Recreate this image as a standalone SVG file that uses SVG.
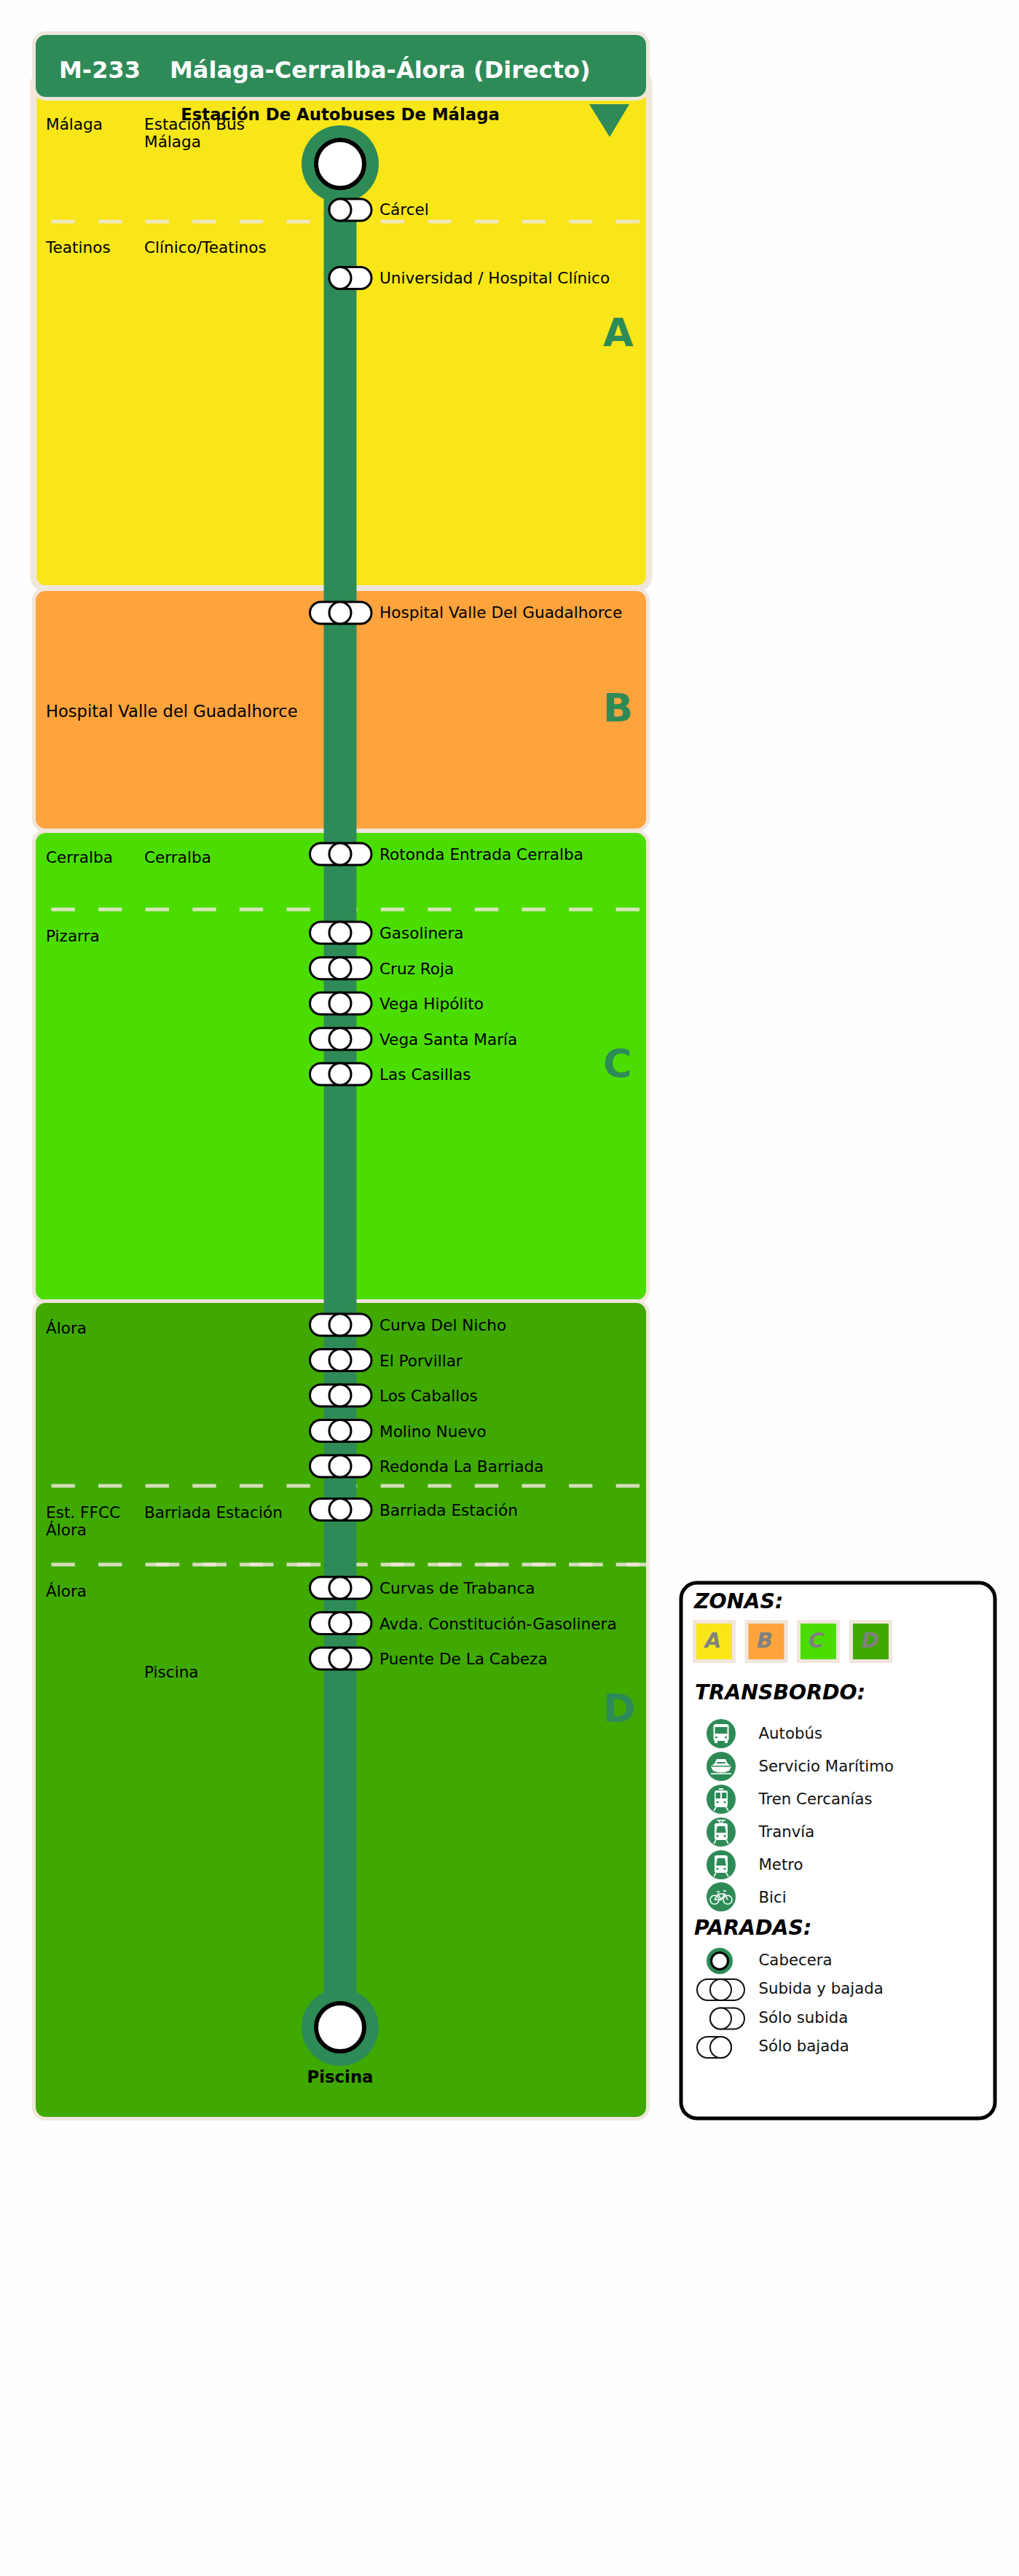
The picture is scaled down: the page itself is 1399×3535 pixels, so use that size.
<svg xmlns="http://www.w3.org/2000/svg" xmlns:xlink="http://www.w3.org/1999/xlink" width="1399" height="3535" viewBox="0 0 1399 3535">
<style>
text{font-family:"DejaVu Sans",sans-serif;fill:#000}
.z{stroke:#f0e6dc;stroke-width:5}
.l{font-size:21.6px}
.lw{font-size:22.6px}
.r{font-size:21.6px}
.lg{font-size:21.3px;fill:#111}
.b{font-size:22.8px;font-weight:bold;text-anchor:middle}
.zl{font-size:54px;font-weight:bold;fill:#2e8b57}
.h{font-size:32px;font-weight:bold;fill:#fff}
.t{font-size:28.4px;font-weight:bold;font-style:italic}
.sw{stroke:#f0e6dc;stroke-width:5}
.swl{font-size:29px;font-weight:bold;font-style:italic;fill:#808080;text-anchor:middle}
.d{fill:none;stroke:#f0e6dc;stroke-opacity:.85;stroke-width:5;stroke-dasharray:32.3 32.3}
.cap{fill:#fff;stroke:#000;stroke-width:3}
.cap2{fill:#fff;stroke:#111;stroke-width:2}
.ic{fill:#2e8b57}
.w{fill:#fff}
.g{fill:#2e8b57}
.ws{fill:none;stroke:#fff;stroke-width:1.6}
</style>
<defs>
<g id="both"><rect class="cap" x="-41.500" y="-15" width="84.500" height="30" rx="15"/><circle class="cap" cx="0" cy="0" r="15"/></g>
<g id="up"><rect class="cap" x="-15" y="-15" width="58" height="30" rx="15"/><circle class="cap" cx="0" cy="0" r="15"/></g>
<g id="term"><circle r="53" fill="#2e8b57"/><circle r="33" fill="#fff" stroke="#000" stroke-width="6"/></g>
</defs>
<rect width="1399" height="3535" fill="#fefefe"/>

<g id="zone-a"><rect x="46" y="100" width="845" height="707.500" rx="16" fill="#f8e618" stroke="#f0e6dc" stroke-width="9"/></g>
<g id="zone-b"><rect class="z" x="46.500" y="808.500" width="843" height="331" rx="16" fill="#ffa33c"/></g>
<g id="zone-c"><rect class="z" x="46.500" y="1140.500" width="843" height="646" rx="16" fill="#4cdd00"/></g>
<g id="zone-d"><rect class="z" x="46.500" y="1785.500" width="843" height="1122" rx="16" fill="#3fa900"/></g>
<g id="header"><rect class="z" x="46.500" y="45.500" width="843" height="90" rx="16" fill="#2e8b57"/>
<text class="h" x="81" y="107">M-233</text><text class="h" x="233" y="107">Málaga-Cerralba-Álora (Directo)</text></g>

<g id="zone-dividers">
<path class="d" d="M70.500 304H880"/>
<path class="d" d="M70.500 1248H880"/>
<path class="d" d="M70.500 2039H880"/>
<path class="d" d="M70.500 2147H880"/>
<path class="d" d="M214 2147H888"/>
</g>

<g id="connectors"><path d="M467 225V2782" stroke="#2e8b57" stroke-width="45" fill="none"/></g>

<path id="direction" d="M809 143H864L837 188Z" fill="#2e8b57"/>
<text class="zl" x="828" y="475">A</text>
<text class="zl" x="828" y="990">B</text>
<text class="zl" x="828" y="1478">C</text>
<text class="zl" x="828" y="2363">D</text>

<g id="areas">
<text class="l" x="63" y="178">Málaga</text>
<text class="l" x="198" y="178">Estación Bus</text>
<text class="l" x="198" y="202">Málaga</text>
<text class="l" x="63" y="347">Teatinos</text>
<text class="l" x="198" y="347">Clínico/Teatinos</text>
<text class="lw" x="63" y="984">Hospital Valle del Guadalhorce</text>
<text class="l" x="63" y="1184">Cerralba</text>
<text class="l" x="198" y="1184">Cerralba</text>
<text class="l" x="63" y="1292">Pizarra</text>
<text class="l" x="63" y="1830">Álora</text>
<text class="l" x="63" y="2083">Est. FFCC</text>
<text class="l" x="63" y="2107">Álora</text>
<text class="l" x="198" y="2083">Barriada Estación</text>
<text class="l" x="63" y="2191">Álora</text>
<text class="l" x="198" y="2302">Piscina</text>
</g>

<g id="stop-origin"><use href="#term" x="467" y="225"/><text class="b" x="467" y="165">Estación De Autobuses De Málaga</text></g>
<g id="stop-carcel"><use href="#up" x="467" y="288"/><text class="r" x="521" y="295">Cárcel</text></g>
<g id="stop-universidad"><use href="#up" x="467" y="381.500"/><text class="r" x="521" y="389">Universidad / Hospital Clínico</text></g>
<g id="stop-hospital"><use href="#both" x="467" y="841"/><text class="r" x="521" y="848">Hospital Valle Del Guadalhorce</text></g>
<g id="stop-rotonda"><use href="#both" x="467" y="1172"/><text class="r" x="521" y="1180">Rotonda Entrada Cerralba</text></g>
<g id="stop-gasolinera"><use href="#both" x="467" y="1280"/><text class="r" x="521" y="1288">Gasolinera</text></g>
<g id="stop-cruz"><use href="#both" x="467" y="1328.700"/><text class="r" x="521" y="1337">Cruz Roja</text></g>
<g id="stop-hipolito"><use href="#both" x="467" y="1377"/><text class="r" x="521" y="1385">Vega Hipólito</text></g>
<g id="stop-santamaria"><use href="#both" x="467" y="1425.700"/><text class="r" x="521" y="1434">Vega Santa María</text></g>
<g id="stop-casillas"><use href="#both" x="467" y="1474"/><text class="r" x="521" y="1482">Las Casillas</text></g>
<g id="stop-nicho"><use href="#both" x="467" y="1818"/><text class="r" x="521" y="1826">Curva Del Nicho</text></g>
<g id="stop-porvillar"><use href="#both" x="467" y="1866.500"/><text class="r" x="521" y="1874.500">El Porvillar</text></g>
<g id="stop-caballos"><use href="#both" x="467" y="1915"/><text class="r" x="521" y="1923">Los Caballos</text></g>
<g id="stop-molino"><use href="#both" x="467" y="1963.500"/><text class="r" x="521" y="1971.500">Molino Nuevo</text></g>
<g id="stop-redonda"><use href="#both" x="467" y="2012"/><text class="r" x="521" y="2020">Redonda La Barriada</text></g>
<g id="stop-barriada"><use href="#both" x="467" y="2071.500"/><text class="r" x="521" y="2079.500">Barriada Estación</text></g>
<g id="stop-trabanca"><use href="#both" x="467" y="2179"/><text class="r" x="521" y="2187">Curvas de Trabanca</text></g>
<g id="stop-avda"><use href="#both" x="467" y="2227.500"/><text class="r" x="521" y="2235.500">Avda. Constitución-Gasolinera</text></g>
<g id="stop-puente"><use href="#both" x="467" y="2276"/><text class="r" x="521" y="2284">Puente De La Cabeza</text></g>
<g id="stop-piscina"><use href="#term" x="467" y="2782"/><text class="b" x="467" y="2858">Piscina</text></g>

<g id="legend" transform="translate(2 0)">
<rect x="933" y="2172" width="431" height="735" rx="22" fill="#fff" stroke="#000" stroke-width="5"/>
<text class="t" x="951" y="2207">ZONAS:</text>
<rect class="sw" x="951.500" y="2225.500" width="54" height="54" fill="#f8e618"/><text class="swl" x="977" y="2261">A</text>
<rect class="sw" x="1023" y="2225.500" width="54" height="54" fill="#ffa33c"/><text class="swl" x="1048" y="2261">B</text>
<rect class="sw" x="1094.500" y="2225.500" width="54" height="54" fill="#4cdd00"/><text class="swl" x="1119" y="2261">C</text>
<rect class="sw" x="1166.500" y="2225.500" width="54" height="54" fill="#3fa900"/><text class="swl" x="1193" y="2261">D</text>
<text class="t" x="952" y="2332">TRANSBORDO:</text>

<g id="icon-bus" transform="translate(988 2379)"><circle class="ic" r="20"/><rect class="w" x="-10.500" y="-13" width="21" height="23" rx="3"/><rect class="g" x="-8.500" y="-9" width="17" height="9"/><circle class="g" cx="-6.500" cy="5" r="1.500"/><circle class="g" cx="6.500" cy="5" r="1.500"/><rect class="w" x="-9" y="10" width="4" height="3"/><rect class="w" x="5" y="10" width="4" height="3"/></g>
<text class="lg" x="1039.500" y="2386">Autobús</text>
<g id="icon-boat" transform="translate(988 2424)"><circle class="ic" r="20"/><path class="w" d="M-6-10H6L9-4 14 0 11 6Q0 11-11 6L-14 0-9-4Z"/><rect class="g" x="-6" y="-6" width="12" height="2"/><path class="g" d="M-13-1H13V0.500H-13Z"/><path class="ws" d="M-14 10H14" stroke-width="1"/></g>
<text class="lg" x="1039.500" y="2431">Servicio Marítimo</text>
<g id="icon-train" transform="translate(988 2469)"><circle class="ic" r="20"/><rect class="w" x="-3" y="-15" width="6" height="2"/><rect class="w" x="-9" y="-12" width="18" height="23" rx="3"/><rect class="g" x="-7.500" y="-9" width="6.500" height="8"/><rect class="g" x="1" y="-9" width="6.500" height="8"/><circle class="g" cx="-5" cy="4" r="1.500"/><circle class="g" cx="5" cy="4" r="1.500"/><path class="ws" d="M-7 11L-10 16M7 11L10 16"/></g>
<text class="lg" x="1039.500" y="2476">Tren Cercanías</text>
<g id="icon-tram" transform="translate(988 2514)"><circle class="ic" r="20"/><path class="ws" d="M-6-16H6M-3-16L-1-12M3-16L1-12"/><rect class="w" x="-9" y="-12" width="18" height="23" rx="3"/><path class="g" d="M-5-8H5L7 1H-7Z"/><circle class="g" cx="-5" cy="5.500" r="1.500"/><circle class="g" cx="5" cy="5.500" r="1.500"/><path class="ws" d="M-7 11L-10 16M7 11L10 16"/></g>
<text class="lg" x="1039.500" y="2521">Tranvía</text>
<g id="icon-metro" transform="translate(988 2559)"><circle class="ic" r="20"/><rect class="w" x="-9" y="-13" width="18" height="24" rx="3"/><path class="g" d="M-5-9H5L7 1H-7Z"/><circle class="g" cx="-5" cy="5.500" r="1.500"/><circle class="g" cx="5" cy="5.500" r="1.500"/><path class="ws" d="M-7 11L-10 16M7 11L10 16"/></g>
<text class="lg" x="1039.500" y="2566">Metro</text>
<g id="icon-bike" transform="translate(988 2603)"><circle class="ic" r="20"/><circle class="ws" cx="-9" cy="4" r="6"/><circle class="ws" cx="9" cy="4" r="6"/><path class="ws" d="M-9 4L-4-4H5L9 4M-4-4L0 4H-9M0 4L5-4M-6-7H-2M3-8H7"/></g>
<text class="lg" x="1039.500" y="2611">Bici</text>

<text class="t" x="951" y="2655">PARADAS:</text>
<g id="key-terminal"><circle cx="986" cy="2691" r="18" fill="#2e8b57"/><circle cx="986" cy="2691" r="11.500" fill="#fff" stroke="#000" stroke-width="3"/></g>
<text class="lg" x="1039.500" y="2697">Cabecera</text>
<g id="key-both"><rect class="cap2" x="955" y="2716" width="65" height="29" rx="14.500"/><circle class="cap2" cx="987.500" cy="2730.500" r="14.500"/></g>
<text class="lg" x="1039.500" y="2736">Subida y bajada</text>
<g id="key-up"><rect class="cap2" x="973" y="2755.500" width="47" height="29" rx="14.500"/><circle class="cap2" cx="987.500" cy="2770" r="14.500"/></g>
<text class="lg" x="1039.500" y="2776">Sólo subida</text>
<g id="key-down"><rect class="cap2" x="955" y="2795" width="47" height="29" rx="14.500"/><circle class="cap2" cx="987.500" cy="2809.500" r="14.500"/></g>
<text class="lg" x="1039.500" y="2815">Sólo bajada</text>
</g>
</svg>
